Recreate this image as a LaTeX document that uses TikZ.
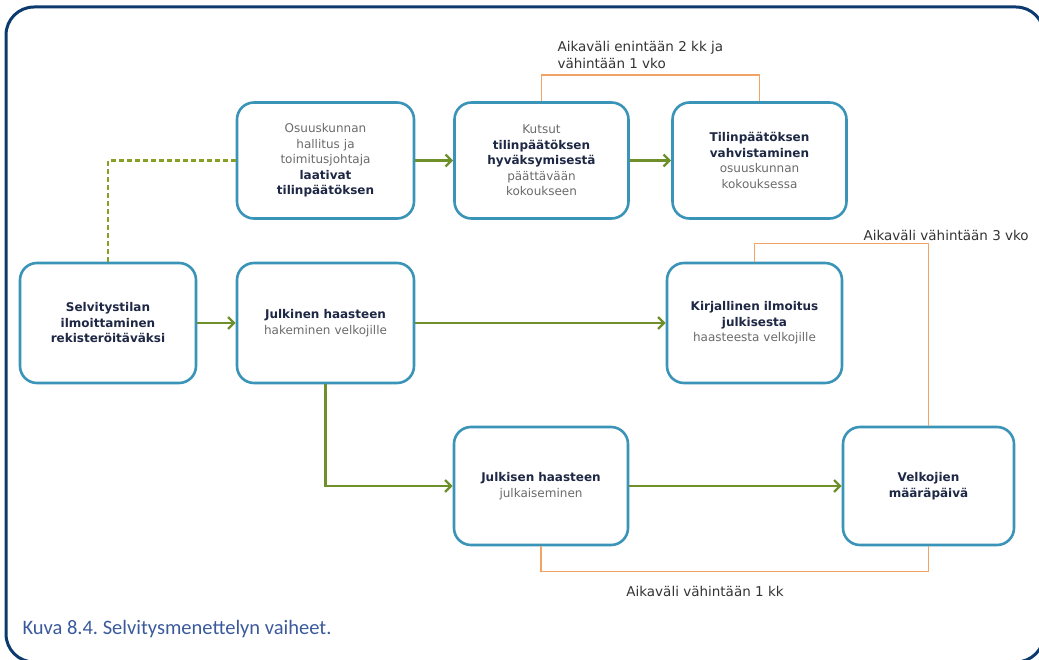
\documentclass[tikz,border=0pt]{standalone}
\usepackage{fontspec}
\setmainfont{DejaVu Sans}
\newfontfamily\capfont{Carlito}
\usepackage{tikz}
\usetikzlibrary{positioning,arrows.meta}
\frenchspacing

\definecolor{frameblue}{HTML}{0B3A6E}
\definecolor{boxblue}{HTML}{3A94B8}
\definecolor{flowgreen}{HTML}{6F8F2A}
\definecolor{gaporange}{HTML}{F2A466}
\definecolor{boxdark}{HTML}{1E2744}
\definecolor{boxgray}{HTML}{6A6A6A}
\definecolor{capblue}{HTML}{3A5A9C}

\newcommand{\hl}[1]{\textcolor{boxdark}{\textbf{#1}}}

\tikzset{
    box/.style={draw=boxblue, line width=2.6pt, rounded corners=17pt,
        minimum width=174pt, minimum height=116pt, text width=164pt,
        align=center, text=boxgray,
        font=\fontsize{12}{15.5}\selectfont},
    flow/.style={draw=flowgreen, line width=2.8pt,
        -{Straight Barb[length=6pt,width=12pt,line width=2.4pt]}},
    dashflow/.style={draw=flowgreen!85!yellow, line width=2.8pt, dash pattern=on 5pt off 3pt},
    gap/.style={draw=gaporange, line width=1.5pt},
    gaplabel/.style={text=black!80, font=\fontsize{13.5}{16.5}\selectfont}
}

\begin{document}
\begin{tikzpicture}[x=1pt, y=-1pt, node distance=216pt, on grid]
    \useasboundingbox (0,0) rectangle (1039,660);

    % outer frame
    \draw[frameblue, line width=3pt, rounded corners=28pt] (6,7) rectangle (1044,662);

    % top row
    \node[box, minimum width=177pt] (hall) at (325.5,160.5)
        {Osuuskunnan\\ hallitus ja\\ toimitusjohtaja\\ \hl{laativat}\\ \hl{tilinpäätöksen}};
    \node[box] (kutsu) [right=216pt of hall]
        {Kutsut\\ \hl{tilinpäätöksen}\\ \hl{hyväksymisestä}\\ päättävään\\ kokoukseen};
    \node[box] (vahv) [right=218pt of kutsu]
        {\hl{Tilinpäätöksen}\\ \hl{vahvistaminen}\\ osuuskunnan\\ kokouksessa};

    % middle row
    \node[box, minimum width=176pt, minimum height=120pt] (selv) at (108,323)
        {\hl{Selvitystilan}\\ \hl{ilmoittaminen}\\ \hl{rekisteröitäväksi}};
    \node[box, minimum width=177pt, minimum height=120pt] (haaste) [right=217.5pt of selv]
        {\hl{Julkinen haasteen}\\ hakeminen velkojille};
    \node[box, minimum width=175pt, minimum height=120pt] (kirj) [right=429pt of haaste]
        {\hl{Kirjallinen ilmoitus}\\ \hl{julkisesta}\\ haasteesta velkojille};

    % bottom row
    \node[box, minimum height=118pt] (julk) at (541,486)
        {\hl{Julkisen haasteen}\\ julkaiseminen};
    \node[box, minimum width=171pt, minimum height=118pt] (maar) [right=387.5pt of julk]
        {\hl{Velkojien}\\ \hl{määräpäivä}};

    % flow
    \path[flow]
        (hall) edge (kutsu)
        (kutsu) edge (vahv)
        (selv) edge (haaste)
        (haaste) edge (kirj)
        (julk) edge (maar);
    \draw[flow] (haaste) |- (julk);
    \draw[dashflow] (selv) |- (hall);

    % time limits
    \draw[gap] (kutsu.north) -- ++(0,-26) -| (vahv.north);
    \draw[gap] (kirj.north) -- ++(0,-18) -| (maar.north);
    \draw[gap] (julk.south) -- ++(0,25) -| (maar.south);

    \node[gaplabel, anchor=south west, align=left] (lab1) at (554,72)
        {Aikaväli enintään 2 kk ja\\ vähintään 1 vko};
    \node[gaplabel, anchor=west] (lab2) at (860,235) {Aikaväli vähintään 3 vko};
    \node[gaplabel] (lab3) at (705,591) {Aikaväli vähintään 1 kk};

    % caption
    \node[anchor=base west, text=capblue, font=\capfont\fontsize{20.5}{24}\selectfont]
        (cap) at (19,634) {Kuva 8.4. Selvitysmenettelyn vaiheet.};
\end{tikzpicture}
\end{document}
